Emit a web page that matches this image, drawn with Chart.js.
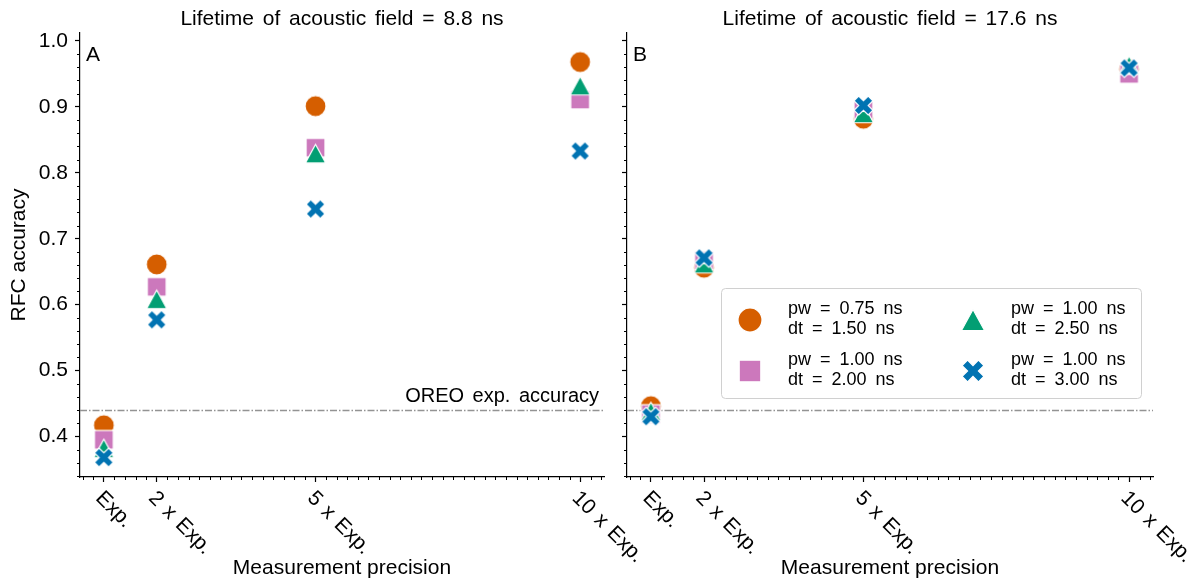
<!DOCTYPE html>
<html>
<head>
<meta charset="utf-8">
<script src="https://cdn.jsdelivr.net/npm/chart.js@4.4.0/dist/chart.umd.min.js"></script>
<style>
    html, body { margin: 0; padding: 0; background: #fff; }
    #wrap { position: relative; width: 1196px; height: 583px; }
    #wrap canvas { position: absolute; left: 0; top: 0; }
</style>
</head>
<body>
<div id="wrap">
    <canvas id="panelA" width="1196" height="583"></canvas>
    <canvas id="panelB" width="1196" height="583"></canvas>
</div>
<script>
    "use strict";

    // Data
    const precisionX = [1, 2, 5, 10];
    const precisionLabels = ["Exp.", "2 x Exp.", "5 x Exp.", "10 x Exp."];
    const seriesLabels = [
        ["pw = 0.75 ns", "dt = 1.50 ns"],
        ["pw = 1.00 ns", "dt = 2.00 ns"],
        ["pw = 1.00 ns", "dt = 2.50 ns"],
        ["pw = 1.00 ns", "dt = 3.00 ns"]
    ];
    const panelTitles = ["Lifetime of acoustic field = 8.8 ns", "Lifetime of acoustic field = 17.6 ns"];
    const panelLetters = ["A", "B"];

    // lifetime 8.8 ns
    const accA_pw075_dt150 = [0.417, 0.661, 0.901, 0.968];
    const accA_pw100_dt200 = [0.395, 0.627, 0.838, 0.911];
    const accA_pw100_dt250 = [0.382, 0.608, 0.829, 0.932];
    const accA_pw100_dt300 = [0.368, 0.577, 0.745, 0.833];

    // lifetime 17.6 ns
    const accB_pw075_dt150 = [0.446, 0.656, 0.882, 0.957];
    const accB_pw100_dt200 = [0.434, 0.667, 0.895, 0.950];
    const accB_pw100_dt250 = [0.438, 0.662, 0.890, 0.963];
    const accB_pw100_dt300 = [0.430, 0.671, 0.902, 0.959];

    const oreoAccuracy = 0.44;
    const oreoLabel = "OREO exp. accuracy";
    const yTicks = [0.4, 0.5, 0.6, 0.7, 0.8, 0.9, 1.0];

    const FONT = '"Liberation Sans", Arial, sans-serif';
    const colors = ["#D55E00", "#CC78BC", "#029E73", "#0173B2"];
    const shapes = ["circle", "square", "triangle", "x"];

    Chart.defaults.color = "#000";
    Chart.defaults.font.family = FONT;
    Chart.defaults.font.size = 21;

    // matplotlib-like filled markers with a white edge
    function markerImage(shape, color, r) {
        const size = Math.ceil(r * 2 + 4);
        const c = document.createElement("canvas");
        c.width = c.height = size;
        const g = c.getContext("2d");
        g.translate(size / 2, size / 2);
        g.beginPath();
        if (shape === "circle") {
            g.arc(0, 0, r, 0, Math.PI * 2);
        } else if (shape === "square") {
            g.rect(-r * 0.9, -r * 0.9, r * 1.8, r * 1.8);
        } else if (shape === "triangle") {
            g.moveTo(0, -r * 0.88);
            g.lineTo(r * 0.96, r * 0.88);
            g.lineTo(-r * 0.96, r * 0.88);
            g.closePath();
        } else {
            const L = r * 0.96, w = r * 0.32;
            g.rotate(Math.PI / 4);
            const pts = [[w, -L], [w, -w], [L, -w], [L, w], [w, w], [w, L],
                         [-w, L], [-w, w], [-L, w], [-L, -w], [-w, -w], [-w, -L]];
            pts.forEach((p, i) => i ? g.lineTo(p[0], p[1]) : g.moveTo(p[0], p[1]));
            g.closePath();
        }
        g.fillStyle = color;
        g.fill();
        g.strokeStyle = "#fff";
        g.lineWidth = 1.2;
        g.stroke();
        return c;
    }

    const plotMarkers = shapes.map((s, i) => markerImage(s, colors[i], 10.5));
    const legendMarkers = shapes.map((s, i) => markerImage(s, colors[i], 12));

    function makeDatasets(series) {
        return series.map((vals, i) => ({
            label: seriesLabels[i].join(" "),
            data: precisionX.map((x, j) => ({x: x, y: vals[j]})),
            pointStyle: plotMarkers[i],
            pointRadius: 10,
            order: 4 - i
        }));
    }

    // Panel title, letter, OREO line, minor ticks, rotated x labels
    const panelDecor = {
        id: "panelDecor",
        beforeDatasetsDraw(chart) {
            const ctx = chart.ctx, area = chart.chartArea;
            const y = Math.round(chart.scales.y.getPixelForValue(oreoAccuracy)) + 0.5;
            ctx.save();
            ctx.strokeStyle = "#939393";
            ctx.lineWidth = 1.3;
            ctx.setLineDash([7, 2, 1.5, 2]);
            ctx.beginPath();
            ctx.moveTo(area.left, y);
            ctx.lineTo(area.right, y);
            ctx.stroke();
            ctx.restore();
        },
        afterDraw(chart, args, opts) {
            const ctx = chart.ctx, area = chart.chartArea;
            const sx = chart.scales.x, sy = chart.scales.y;
            ctx.save();
            ctx.fillStyle = "#000";

            ctx.font = "21px " + FONT;
            ctx.wordSpacing = "3px";
            ctx.textAlign = "center";
            ctx.textBaseline = "alphabetic";
            ctx.fillText(panelTitles[opts.index], (area.left + area.right) / 2, 25);
            ctx.wordSpacing = "0px";

            ctx.textAlign = "left";
            ctx.fillText(panelLetters[opts.index], area.left + 6, area.top + 28);

            if (opts.index === 0) {
                ctx.font = "20px " + FONT;
                ctx.wordSpacing = "3px";
                ctx.textAlign = "right";
                ctx.fillText(oreoLabel, area.right - 5, sy.getPixelForValue(oreoAccuracy) - 8);
                ctx.wordSpacing = "0px";
            }

            // minor ticks
            ctx.strokeStyle = "#000";
            ctx.lineWidth = 1;
            ctx.beginPath();
            for (let k = 3; k <= 52; k++) {
                if (k === 5 || k === 10 || k === 25 || k === 50) continue;
                const px = Math.round(sx.getPixelForValue(k * 0.2)) + 0.5;
                ctx.moveTo(px, area.bottom);
                ctx.lineTo(px, area.bottom + 3);
            }
            for (let k = 17; k <= 50; k++) {
                if (k % 5 === 0) continue;
                const py = Math.round(sy.getPixelForValue(k * 0.02)) + 0.5;
                ctx.moveTo(area.left, py);
                ctx.lineTo(area.left - 3, py);
            }
            ctx.stroke();

            // rotated x tick labels
            ctx.font = "21px " + FONT;
            ctx.wordSpacing = "2px";
            ctx.textAlign = "left";
            precisionX.forEach((v, i) => {
                const px = sx.getPixelForValue(v);
                ctx.save();
                ctx.translate(px - 9, area.bottom + 22);
                ctx.rotate(Math.PI / 4);
                ctx.fillText(precisionLabels[i], 0, 0);
                ctx.restore();
            });
            ctx.restore();
        }
    };

    // Legend box with two-line labels, two columns
    const twoColLegend = {
        id: "twoColLegend",
        afterDraw(chart) {
            const ctx = chart.ctx, area = chart.chartArea;
            const w = 420, h = 110;
            const left = area.right - 12 - w, top = area.top + 255;
            ctx.save();
            ctx.beginPath();
            ctx.roundRect(left + 0.5, top + 0.5, w, h, 4);
            ctx.fillStyle = "rgba(255,255,255,0.8)";
            ctx.fill();
            ctx.strokeStyle = "#d0d0d0";
            ctx.lineWidth = 1;
            ctx.stroke();

            ctx.font = "18px " + FONT;
            ctx.wordSpacing = "4px";
            ctx.fillStyle = "#000";
            ctx.textAlign = "left";
            ctx.textBaseline = "alphabetic";
            seriesLabels.forEach((lines, i) => {
                const col = Math.floor(i / 2), row = i % 2;
                const mx = left + 29 + col * 223;
                const my = top + 32 + row * 51;
                const img = legendMarkers[i];
                ctx.drawImage(img, mx - img.width / 2, my - img.height / 2);
                ctx.fillText(lines[0], mx + 38, my - 6);
                ctx.fillText(lines[1], mx + 38, my + 14);
            });
            ctx.restore();
        }
    };

    function axes(isLeft) {
        return {
            x: {
                type: "linear",
                min: 0.55,
                max: 10.45,
                afterBuildTicks: function (scale) {
                    scale.ticks = precisionX.map(v => ({value: v}));
                },
                afterFit: function (scale) { scale.height = 106; },
                ticks: {display: false},
                grid: {display: true, drawOnChartArea: false, drawTicks: true, tickLength: 5, tickWidth: 1.2, tickColor: "#000"},
                border: {display: true, color: "#000", width: 1.2},
                title: {display: true, text: "Measurement precision", font: {size: 21}, padding: {top: 0, bottom: 2}}
            },
            y: {
                type: "linear",
                min: 0.3386,
                max: 1.012,
                afterBuildTicks: function (scale) {
                    scale.ticks = yTicks.map(v => ({value: v}));
                },
                afterFit: function (scale) { scale.width = isLeft ? 80 : 627; },
                ticks: {display: isLeft, padding: 7, callback: v => v.toFixed(1), font: {size: 21}},
                grid: {display: true, drawOnChartArea: false, drawTicks: true, tickLength: 5, tickWidth: 1.2, tickColor: "#000"},
                border: {display: true, color: "#000", width: 1.2},
                title: {display: isLeft, text: "RFC accuracy", font: {size: 21}, padding: {top: 7, bottom: 0}}
            }
        };
    }

    var ctxA = document.getElementById("panelA").getContext("2d");
    var chartA = new Chart(ctxA, {
        type: "scatter",
        data: {
            datasets: makeDatasets([accA_pw075_dt150, accA_pw100_dt200, accA_pw100_dt250, accA_pw100_dt300])
        },
        options: {
            responsive: false,
            animation: false,
            layout: {padding: {top: 33, right: 592, bottom: 0, left: 0}},
            scales: axes(true),
            plugins: {
                legend: {display: false},
                tooltip: {enabled: false},
                panelDecor: {index: 0}
            }
        },
        plugins: [panelDecor]
    });

    var ctxB = document.getElementById("panelB").getContext("2d");
    var chartB = new Chart(ctxB, {
        type: "scatter",
        data: {
            datasets: makeDatasets([accB_pw075_dt150, accB_pw100_dt200, accB_pw100_dt250, accB_pw100_dt300])
        },
        options: {
            responsive: false,
            animation: false,
            layout: {padding: {top: 33, right: 43, bottom: 0, left: 0}},
            scales: axes(false),
            plugins: {
                legend: {display: false},
                tooltip: {enabled: false},
                panelDecor: {index: 1}
            }
        },
        plugins: [panelDecor, twoColLegend]
    });
</script>
</body>
</html>
